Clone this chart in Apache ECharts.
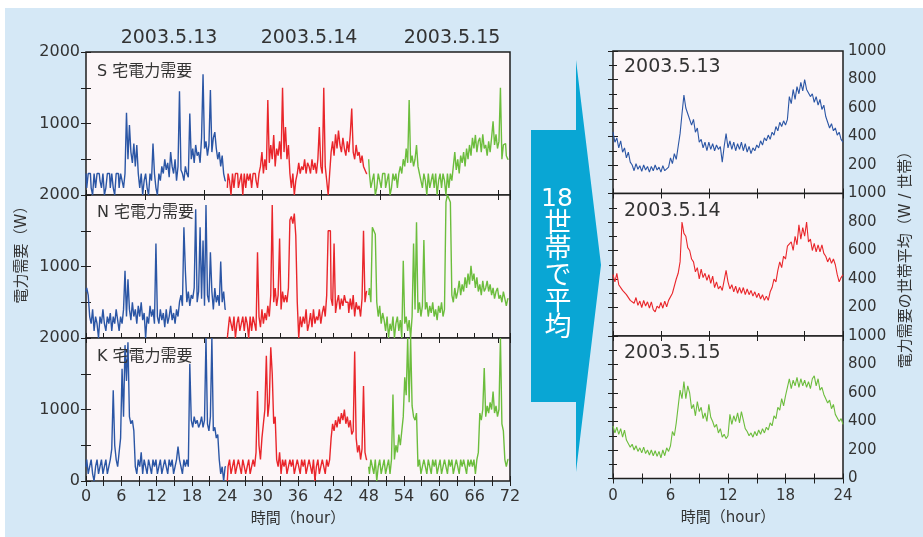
<!DOCTYPE html>
<html>
<head>
<meta charset="utf-8">
<script src="https://cdn.jsdelivr.net/npm/echarts@6/dist/echarts.min.js"></script>
<style>
  html, body { margin: 0; padding: 0; background: #ffffff; }
  #bg { position: absolute; left: 5px; top: 8px; width: 918px; height: 529px; background: #d5e8f6; }
  #chart { position: absolute; left: 0; top: 0; width: 923px; height: 537px; }
</style>
</head>
<body>
<div id="bg"></div>
<div id="chart"></div>
<script>
// Household power demand, sampled every 15 minutes (W), one array per day
const STEP = 0.25;
const sDay13 = [
  300,100,300,300,100,0,300,100, 300,300,200,100,300,0,100,300,
  300,100,300,100,0,300,300,100, 300,200,100,300,1150,500,980,600,
  450,720,400,700,300,100,300,0, 200,300,100,0,300,200,720,300,
  100,0,300,200,400,300,500,350, 450,250,600,400,300,500,200,400,
  1450,350,300,200,400,300,250,1140, 500,650,450,700,550,600,450,800,
  1690,650,750,550,700,1470,600,800, 880,650,500,600,400,550,300,200
];
const sDay14 = [
  100,300,200,0,300,100,300,300, 100,200,300,0,300,100,300,200,
  300,100,300,300,200,100,300,400, 600,300,500,350,1330,450,700,500,
  840,400,650,550,750,500,1500,600, 950,500,700,300,100,300,0,200,
  300,450,300,400,350,500,300,450, 400,300,500,350,450,300,500,950,
  400,300,1500,400,200,0,300,600, 750,550,850,650,900,700,600,800,
  650,550,750,600,850,1210,600,500, 700,550,600,450,550,400,350,300
];
const sDay15 = [
  500,300,100,200,300,0,100,300, 200,100,300,300,100,200,300,0,
  100,300,200,300,100,300,400,300, 500,400,650,450,1330,450,550,400,
  500,700,400,300,200,100,300,200, 0,300,100,200,300,100,300,0,
  200,300,100,300,200,0,300,100, 300,200,400,600,350,500,300,550,
  450,600,400,650,500,700,550,800, 650,840,600,750,800,600,850,650,
  700,550,750,600,800,1030,700,850, 650,750,1500,500,700,720,550,500
];
const nDay13 = [
  650,700,600,300,200,400,100,300, 200,0,300,200,400,200,100,300,
  200,350,100,300,200,400,250,100, 300,200,400,940,300,820,400,250,
  500,300,400,200,450,300,500,250, 350,0,300,200,450,300,400,200,
  1320,300,200,400,250,350,150,400, 200,300,450,250,350,200,400,300,
  500,600,450,1550,940,500,650,450, 600,550,700,1800,500,650,1550,550,
  1365,450,1860,600,500,1200,650,400, 700,500,600,450,1070,500,650,400
];
const nDay14 = [
  0,100,300,200,100,300,0,200, 300,100,200,300,100,300,200,0,
  300,100,300,200,100,1200,300,150, 400,200,350,250,450,300,600,1860,
  500,700,450,600,1390,400,650,500, 600,500,700,1650,1700,1600,1740,1430,
  500,0,300,150,300,200,400,100, 200,350,150,400,200,300,250,400,
  200,350,450,300,600,1500,1500,550, 450,1320,350,500,600,400,550,450,
  600,500,500,350,550,400,600,300, 500,400,450,300,550,1500,500,650
];
const nDay15 = [
  600,700,500,1550,1500,1450,500,300, 450,200,350,250,100,300,0,200,
  100,300,0,200,300,100,250,0, 1080,200,300,100,250,0,300,1320,
  400,1620,350,500,300,450,1370,400, 500,300,450,350,500,300,400,250,
  450,350,500,300,400,1900,2000,1950, 1900,600,500,700,550,650,800,600,
  750,650,850,700,900,750,1010,800, 900,700,850,650,750,600,800,650,
  700,800,650,750,600,700,550,650, 700,550,600,500,650,550,450,550
];
const kDay13 = [
  200,300,100,200,300,100,0,200, 300,100,200,300,100,200,300,100,
  200,300,450,1270,500,300,200,400, 600,1570,900,1900,1400,1940,900,800,
  850,700,200,100,300,200,400,100, 300,200,100,300,200,100,300,200,
  300,100,200,300,100,200,300,200, 100,300,200,300,100,200,300,480,
  300,200,100,300,200,300,200,1640, 850,750,900,800,850,750,800,900,
  750,850,2000,800,700,900,2000,700, 750,600,650,300,100,200,0,200
];
const kDay14 = [
  0,200,300,100,200,300,100,200, 300,200,100,300,200,100,200,300,
  100,200,300,200,400,1260,500,300, 600,800,1000,1750,900,1100,1870,1500,
  800,900,300,200,400,100,300,200, 300,100,200,300,200,300,100,200,
  300,200,100,300,200,300,100,200, 300,200,100,300,0,200,300,100,
  200,300,200,100,300,200,300,600, 800,700,850,750,900,800,950,850,
  1000,800,900,750,850,650,700,1810, 600,400,500,300,450,1330,400,300
];
const kDay15 = [
  200,100,300,200,100,300,0,200, 300,100,200,300,100,200,300,100,
  300,1210,300,500,400,650,500,700, 900,1450,1200,2000,1100,2000,1050,900,
  850,950,200,300,100,200,300,200, 100,300,200,100,300,200,300,100,
  200,300,100,200,300,200,100,300, 200,300,100,200,300,200,100,300,
  200,300,200,100,300,200,300,200, 300,100,300,400,950,850,1000,1580,
  900,1050,950,1100,1000,1250,950,1050, 900,1000,2000,800,700,300,200,300
];

// Average over 18 households, sampled every 12 minutes (W per household)
const AVG_STEP = 0.2;
const avg13 = [
  430,360,390,320,370,290,320,250,290,220,
  200,160,210,170,195,155,200,165,190,150,
  190,160,200,165,185,150,195,160,150,185,
  250,210,280,240,330,420,560,690,600,560,
  560,480,520,430,460,360,380,320,360,300,
  360,310,350,300,340,310,330,220,330,420,
  320,370,310,360,300,350,310,360,300,350,
  290,330,280,320,300,340,320,370,340,390,
  370,410,380,430,410,470,440,500,470,510,
  480,520,680,630,730,660,750,700,780,720,
  800,730,720,680,700,640,680,620,660,590,
  620,540,500,460,490,440,460,410,430,380,
  360
];
const avg14 = [
  430,380,440,360,370,320,330,290,300,250,
  260,230,270,215,245,200,250,210,240,195,
  240,185,170,210,195,235,195,245,205,250,
  250,300,310,400,440,520,800,720,700,620,
  600,540,520,450,480,400,470,410,440,390,
  430,370,420,340,380,330,350,320,390,460,
  380,330,360,310,350,300,340,300,340,290,
  330,290,320,280,310,270,300,260,290,250,
  280,250,310,340,400,380,460,520,480,560,
  540,630,620,660,600,700,640,780,680,760,
  700,800,660,680,600,650,590,640,590,640,
  580,560,520,550,510,540,500,430,380,410,
  430
];
const avg15 = [
  370,320,360,310,350,290,340,270,260,220,
  240,200,230,190,215,180,220,175,200,165,
  200,160,195,155,190,145,200,160,215,190,
  230,330,300,390,400,620,560,680,560,650,
  600,490,520,440,540,470,500,420,460,400,
  520,430,400,360,380,320,350,290,310,280,
  300,450,380,440,400,460,390,470,410,350,
  330,300,320,290,330,300,340,310,350,320,
  360,340,390,370,440,420,500,480,560,510,
  580,640,700,630,690,650,710,640,700,650,
  690,640,680,630,700,720,650,700,620,640,
  590,600,530,550,490,520,450,460,400,420,
  380
];

const dateLabels = ['2003.5.13', '2003.5.14', '2003.5.15'];
const houseLabels = ['S 宅電力需要', 'N 宅電力需要', 'K 宅電力需要'];
const dayColors = ['#2b56a5', '#e9262b', '#6cbd3d'];

const FONT = "'DejaVu Sans', 'Noto Sans CJK JP', sans-serif";
const TXT = '#333333';
const EDGE = '#1e1e1e';

function pairs(vals, start, step) {
  return vals.map((v, i) => [start + i * step, v]);
}

const leftTops = [52, 195, 338];
const rightTops = [51, 193.5, 336];
const grids = [];
leftTops.forEach(t => grids.push({ left: 86, top: t, width: 424, height: 143 }));
rightTops.forEach(t => grids.push({ left: 613, top: t, width: 230, height: 142.5 }));
grids.forEach(g => Object.assign(g, {
  show: true, backgroundColor: '#fcf6f8', borderColor: EDGE, borderWidth: 1.5, containLabel: false
}));

function xAx(grid, pos, max, interval, labels, minor) {
  return {
    type: 'value', gridIndex: grid, position: pos, min: 0, max: max, interval: interval,
    axisLine: { show: false },
    axisTick: { show: true, inside: true, length: 5, lineStyle: { color: EDGE, width: 1 } },
    minorTick: { show: !!minor, splitNumber: 2, length: 5, lineStyle: { color: EDGE, width: 1 } },
    splitLine: { show: false },
    axisLabel: { show: !!labels, margin: labels === 'r' ? 10 : 8, color: TXT, fontFamily: FONT,
      fontSize: labels === 'r' ? 15 : 16, showMinLabel: true, showMaxLabel: true }
  };
}
function yAx(grid, pos, max, interval, fmt, minor, size) {
  return {
    type: 'value', gridIndex: grid, position: pos, min: 0, max: max, interval: interval,
    axisLine: { show: false },
    axisTick: { show: true, inside: true, length: 5, lineStyle: { color: EDGE, width: 1 } },
    minorTick: { show: !!minor, splitNumber: 2, length: 4, lineStyle: { color: EDGE, width: 1 } },
    splitLine: { show: false },
    axisLabel: { show: !!fmt, formatter: fmt || undefined, margin: pos === 'left' ? 6 : 5,
      color: TXT, fontFamily: FONT, fontSize: size || 16, showMinLabel: true, showMaxLabel: true }
  };
}

const xAxes = [
  xAx(0, 'bottom', 72, 10), xAx(0, 'top', 72, 10),
  xAx(1, 'bottom', 72, 3), xAx(1, 'top', 72, 10),
  xAx(2, 'bottom', 72, 6, 'l', true), xAx(2, 'top', 72, 3),
  xAx(3, 'bottom', 24, 5), xAx(3, 'top', 24, 5),
  xAx(4, 'bottom', 24, 5), xAx(4, 'top', 24, 5),
  xAx(5, 'bottom', 24, 6, 'r', true), xAx(5, 'top', 24, 3)
];
const topFmt = v => (v === 1000 || v === 2000) ? String(v) : '';
const botFmt = v => (v % 1000 === 0) ? String(v) : '';
const rTopFmt = v => v === 0 ? '' : String(v);
const rBotFmt = v => String(v);
const yAxes = [
  yAx(0, 'left', 2000, 500, topFmt), yAx(0, 'right', 2000, 500),
  yAx(1, 'left', 2000, 500, topFmt), yAx(1, 'right', 2000, 500),
  yAx(2, 'left', 2000, 500, botFmt), yAx(2, 'right', 2000, 500),
  yAx(3, 'right', 1000, 200, rTopFmt, true, 15), yAx(3, 'left', 1000, 200, null, true),
  yAx(4, 'right', 1000, 200, rTopFmt, true, 15), yAx(4, 'left', 1000, 200, null, true),
  yAx(5, 'right', 1000, 200, rBotFmt, true, 15), yAx(5, 'left', 1000, 200, null, true)
];

const households = [
  [sDay13, sDay14, sDay15],
  [nDay13, nDay14, nDay15],
  [kDay13, kDay14, kDay15]
];
const series = [];
households.forEach((days, g) => {
  days.forEach((vals, d) => {
    series.push({
      type: 'line', xAxisIndex: 2 * g, yAxisIndex: 2 * g, step: 'middle',
      data: pairs(vals, d * 24, STEP), showSymbol: false, silent: true,
      lineStyle: { color: dayColors[d], width: 1.4 }, itemStyle: { color: dayColors[d] }
    });
  });
});
[avg13, avg14, avg15].forEach((vals, k) => {
  series.push({
    type: 'line', xAxisIndex: 6 + 2 * k, yAxisIndex: 6 + 2 * k,
    data: pairs(vals, 0, AVG_STEP), showSymbol: false, silent: true,
    lineStyle: { color: dayColors[k], width: 1.1 }, itemStyle: { color: dayColors[k] }
  });
});

function label(text, x, y, size, opts) {
  return Object.assign({
    type: 'text', x: x, y: y, silent: true, z: 10,
    style: Object.assign({ text: text, fill: TXT, font: size + 'px ' + FONT,
      textAlign: 'left', textVerticalAlign: 'middle' }, (opts && opts.style) || {})
  }, opts ? { rotation: opts.rotation || 0 } : {});
}

const graphics = [];
// date headings over the 72-hour panels
[169, 309, 452].forEach((cx, i) => graphics.push(label(dateLabels[i], cx, 38, 19, { style: { textAlign: 'center' } })));
// household names
[72, 213, 357].forEach((cy, i) => graphics.push(label(houseLabels[i], 97, cy, 16)));
// date names in the averaged panels
[67.5, 211, 353].forEach((cy, i) => graphics.push(label(dateLabels[i], 624, cy, 19)));
// axis titles
graphics.push(label('時間（hour）', 298, 519, 15, { style: { textAlign: 'center' } }));
graphics.push(label('時間（hour）', 728, 518, 15, { style: { textAlign: 'center' } }));
graphics.push(label('電力需要（W）', 22, 251, 15, { rotation: Math.PI / 2, style: { textAlign: 'center' } }));
graphics.push(label('電力需要の世帯平均（W / 世帯）', 906, 256, 15, { rotation: Math.PI / 2, style: { textAlign: 'center' } }));
// arrow between the panel groups
graphics.push({
  type: 'polygon', silent: true, z: 5,
  shape: { points: [[531, 130], [576, 130], [576, 60], [601, 265], [576, 472], [576, 402], [531, 402]] },
  style: { fill: '#09a6d4' }
});
graphics.push(label('18', 557, 199, 25, { style: { textAlign: 'center', fill: '#ffffff' } }));
['世', '帯', 'で', '平', '均'].forEach((ch, i) =>
  graphics.push(label(ch, 558, 225 + i * 26, 27, { style: { textAlign: 'center', fill: '#ffffff' } })));

const chart = echarts.init(document.getElementById('chart'), null, { renderer: 'canvas' });
chart.setOption({
  animation: false,
  grid: grids,
  xAxis: xAxes,
  yAxis: yAxes,
  series: series,
  graphic: graphics
});
</script>
</body>
</html>
